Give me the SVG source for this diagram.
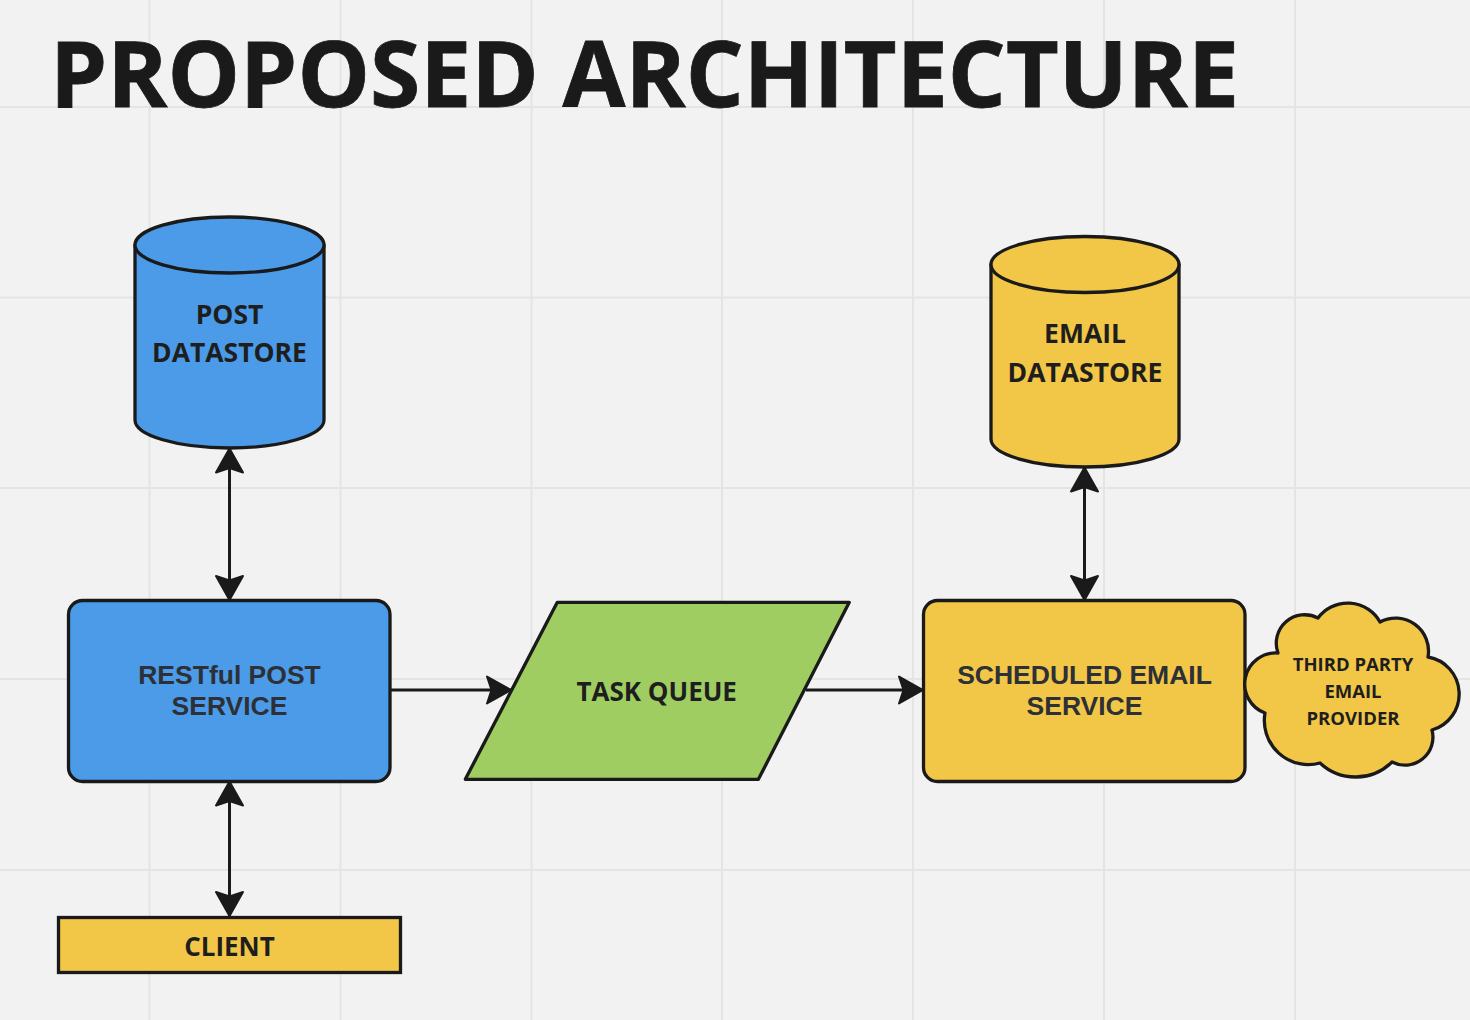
<svg xmlns="http://www.w3.org/2000/svg" width="1470" height="1020" viewBox="0 0 1470 1020">
<style>
.grid line{stroke:#e4e4e4;stroke-width:2}
.shape{stroke:#1a1a1a;stroke-width:3.3;stroke-linejoin:round}
.blue{fill:#4b9be8}
.yellow{fill:#f2c646}
.green{fill:#9fcd62}
.os{font-family:"Open Sans","Noto Sans",sans-serif;font-weight:700;fill:#1e1e1e;text-anchor:middle}
.ls{font-family:"Liberation Sans",Arial,sans-serif;font-weight:700;fill:#2d3036;text-anchor:middle;font-size:26.5px}
.conn line{stroke:#1a1a1a;stroke-width:3;fill:none}
</style>
<defs>
<marker id="arr" markerUnits="userSpaceOnUse" viewBox="-27 -16 30 32" markerWidth="30" markerHeight="32" refX="0" refY="0" orient="auto-start-reverse" overflow="visible">
<path d="M0,0 L-24,-13.5 L-19.5,0 L-24,13.5 Z" fill="#1a1a1a" stroke="#1a1a1a" stroke-width="2" stroke-linejoin="round"/>
</marker>
</defs>
<rect width="1470" height="1020" fill="#f2f2f2"/>
<g class="grid">
<line x1="149.5" y1="0" x2="149.5" y2="1020"/>
<line x1="340.5" y1="0" x2="340.5" y2="1020"/>
<line x1="531.5" y1="0" x2="531.5" y2="1020"/>
<line x1="722" y1="0" x2="722" y2="1020"/>
<line x1="913" y1="0" x2="913" y2="1020"/>
<line x1="1104" y1="0" x2="1104" y2="1020"/>
<line x1="1295" y1="0" x2="1295" y2="1020"/>
<line x1="0" y1="107" x2="1470" y2="107"/>
<line x1="0" y1="297.5" x2="1470" y2="297.5"/>
<line x1="0" y1="488" x2="1470" y2="488"/>
<line x1="0" y1="679" x2="1470" y2="679"/>
<line x1="0" y1="870" x2="1470" y2="870"/>
</g>
<g id="title">
<text x="50" y="107" class="os" style="text-anchor:start;font-size:92px;fill:#1a1a1a;stroke:#1a1a1a;stroke-width:0.8" textLength="1189" lengthAdjust="spacingAndGlyphs">PROPOSED ARCHITECTURE</text>
</g>
<g class="conn">
<line x1="229.5" y1="448.5" x2="229.5" y2="600" marker-start="url(#arr)" marker-end="url(#arr)"/>
<line x1="229.5" y1="781.5" x2="229.5" y2="916" marker-start="url(#arr)" marker-end="url(#arr)"/>
<line x1="1084.5" y1="467.5" x2="1084.5" y2="600" marker-start="url(#arr)" marker-end="url(#arr)"/>
<line x1="390" y1="690" x2="511" y2="690" marker-end="url(#arr)"/>
<line x1="806" y1="690" x2="923" y2="690" marker-end="url(#arr)"/>
</g>
<g id="post-datastore">
<path class="shape blue" d="M135,245 V420 A94.5,28 0 0 0 324,420 V245 Z"/>
<ellipse class="shape blue" cx="229.5" cy="245" rx="94.5" ry="28"/>
<text class="os" x="229.5" y="324" font-size="26.5">POST</text>
<text class="os" x="229.5" y="362" font-size="26.5">DATASTORE</text>
</g>
<g id="email-datastore">
<path class="shape yellow" d="M991,264.5 V439 A94,28 0 0 0 1179,439 V264.5 Z"/>
<ellipse class="shape yellow" cx="1085" cy="264.5" rx="94" ry="28"/>
<text class="os" x="1085" y="342.5" font-size="26.5">EMAIL</text>
<text class="os" x="1085" y="382" font-size="26.5">DATASTORE</text>
</g>
<g id="restful-post-service">
<rect class="shape blue" x="68.5" y="600.5" width="321.5" height="181" rx="14"/>
<text class="ls" x="229.5" y="684">RESTful POST</text>
<text class="ls" x="229.5" y="715">SERVICE</text>
</g>
<g id="task-queue">
<polygon class="shape green" points="557.3,602.3 849.3,602.3 758.4,779.3 465.3,779.3"/>
<text class="os" x="656.7" y="700.5" font-size="26">TASK QUEUE</text>
</g>
<g id="scheduled-email-service">
<rect class="shape yellow" x="923.5" y="600.5" width="321.5" height="181" rx="14"/>
<text class="ls" x="1084.5" y="683.5">SCHEDULED EMAIL</text>
<text class="ls" x="1084.5" y="715">SERVICE</text>
</g>
<g id="third-party-email-provider">
<path class="shape yellow" d="M1278,653 A28.5,28.5 0 0 1 1318,618 A37,37 0 0 1 1380,622 A33,33 0 0 1 1428,657 A37.5,37.5 0 0 1 1432,730 A28,28 0 0 1 1392,762 A52,52 0 0 1 1320,763 A44,44 0 0 1 1265,713 A31,31 0 0 1 1278,653 Z"/>
<text class="os" x="1353" y="671" font-size="18.5">THIRD PARTY</text>
<text class="os" x="1353" y="698" font-size="18.5">EMAIL</text>
<text class="os" x="1353" y="725" font-size="18.5">PROVIDER</text>
</g>
<g id="client">
<rect class="shape yellow" x="58.5" y="917.5" width="342" height="55" style="stroke-linejoin:miter"/>
<text class="os" x="229.5" y="956" font-size="26">CLIENT</text>
</g>
</svg>
